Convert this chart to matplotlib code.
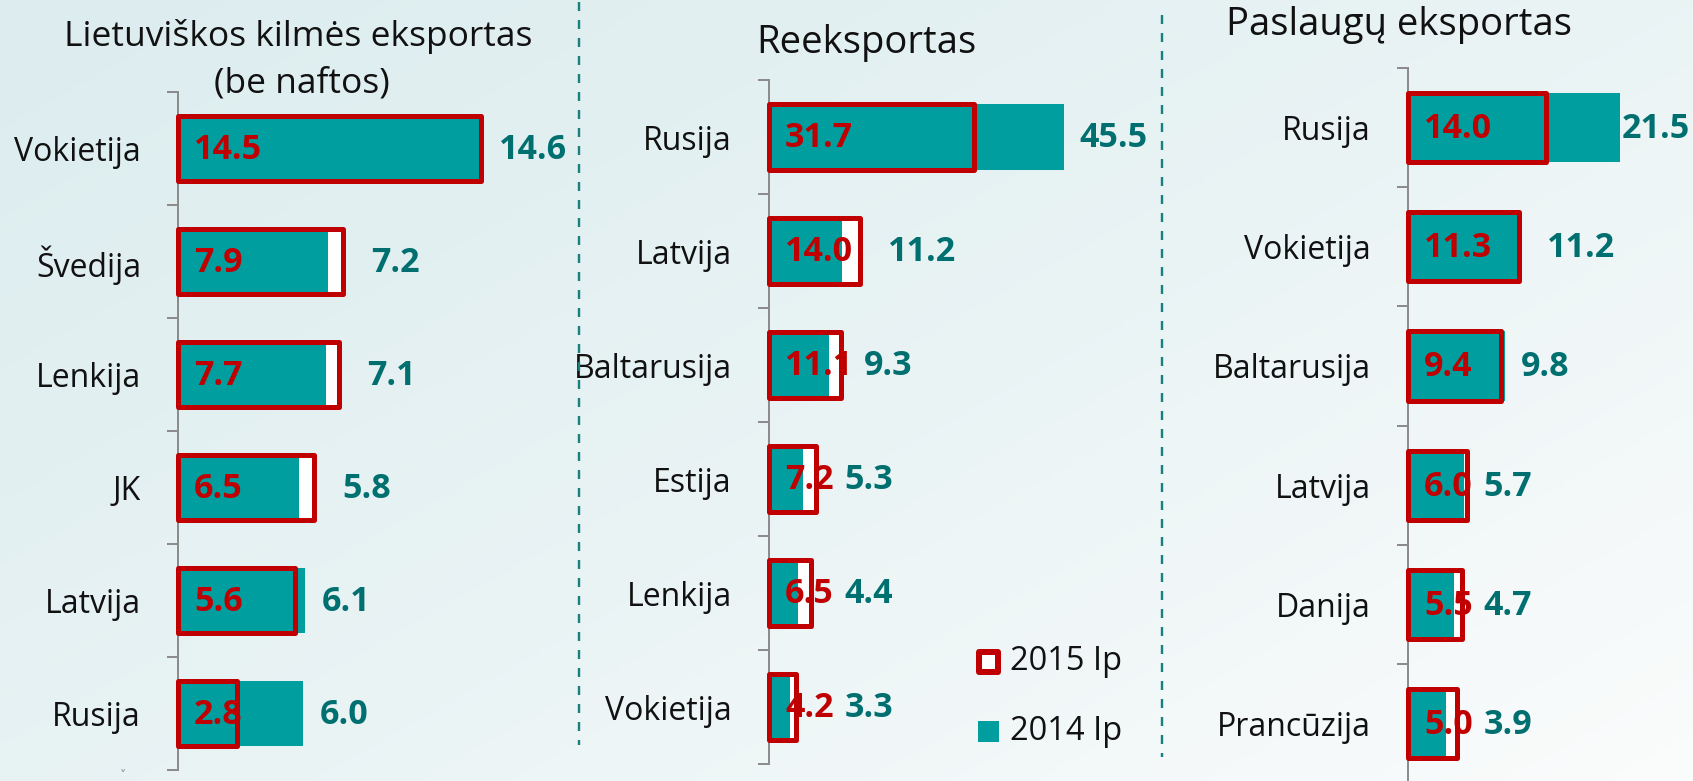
import numpy as np
import matplotlib
matplotlib.use("Agg")
import matplotlib.pyplot as plt
from matplotlib.patches import Rectangle
from matplotlib.lines import Line2D
from matplotlib.colors import to_rgb

plt.rcParams['font.family'] = ['Open Sans', 'DejaVu Sans']
plt.rcParams['lines.scale_dashes'] = False

# ---------------- data ----------------
p1_title = ["Lietuviškos kilmės eksportas", "(be naftos)"]
p1_cats = ["Vokietija", "Švedija", "Lenkija", "JK", "Latvija", "Rusija"]
p1_2015 = [14.5, 7.9, 7.7, 6.5, 5.6, 2.8]
p1_2014 = [14.6, 7.2, 7.1, 5.8, 6.1, 6.0]

p2_title = ["Reeksportas"]
p2_cats = ["Rusija", "Latvija", "Baltarusija", "Estija", "Lenkija", "Vokietija"]
p2_2015 = [31.7, 14.0, 11.1, 7.2, 6.5, 4.2]
p2_2014 = [45.5, 11.2, 9.3, 5.3, 4.4, 3.3]

p3_title = ["Paslaugų eksportas"]
p3_cats = ["Rusija", "Vokietija", "Baltarusija", "Latvija", "Danija", "Prancūzija"]
p3_2015 = [14.0, 11.3, 9.4, 6.0, 5.5, 5.0]
p3_2014 = [21.5, 11.2, 9.8, 5.7, 4.7, 3.9]

legend_labels = ["2015 Ip", "2014 Ip"]

# ---------------- style ----------------
W, H = 1693, 781
RED = "#C00000"
TEAL = "#009E9E"
TEAL_TXT = "#006F6F"
GRAY = "#8C8C8C"
PX2PT = 72 / 100.0
VAL_FS = 24.5

fig = plt.figure(figsize=(W / 100, H / 100), dpi=100)

# background gradient
bg = fig.add_axes([0, 0, 1, 1], zorder=-10)
bg.axis("off")
xx, yy = np.meshgrid(np.linspace(0, 1, 400), np.linspace(0, 1, 200))
t = np.clip(0.55 * xx + 0.45 * yy, 0, 1) ** 1.3
c0 = np.array(to_rgb("#ddedef"))
c1 = np.array(to_rgb("#fbfcfc"))
img = c0[None, None, :] * (1 - t[..., None]) + c1[None, None, :] * t[..., None]
bg.imshow(img, extent=[0, 1, 0, 1], aspect="auto", origin="upper")
bg.set_xlim(0, 1)
bg.set_ylim(0, 1)

# panel geometry in pixels: axis x, top y, row spacing, px per unit, right x
panels = [
    (p1_title, p1_cats, p1_2015, p1_2014, dict(ax_x=178, top=92, row=113, ppu=20.9, right=572,
                                                  title_x=[298, 302], title_y=[46, 92], title_fs=25.5)),
    (p2_title, p2_cats, p2_2015, p2_2014, dict(ax_x=769, top=80, row=114, ppu=6.48, right=1150,
                                                  title_x=[866], title_y=[53], title_fs=27.5)),
    (p3_title, p3_cats, p3_2015, p3_2014, dict(ax_x=1408, top=68, row=119.2, ppu=9.86, right=1690,
                                                  title_x=[1399], title_y=[35], title_fs=27.5)),
]

BAR_H = 0.58
axes_info = []
for title, cats, v15, v14, g in panels:
    n = len(cats)
    bottom_px = g["top"] + n * g["row"]
    ax = fig.add_axes([g["ax_x"] / W, (H - bottom_px) / H,
                       (g["right"] - g["ax_x"]) / W, n * g["row"] / H])
    ax.patch.set_alpha(0)
    y = np.arange(n)
    ax.barh(y, v15, height=BAR_H, color="white", edgecolor="none", zorder=1, clip_on=False)
    ax.barh(y, v14, height=BAR_H, color=TEAL, edgecolor="none", zorder=2, clip_on=False)
    ax.barh(y, v15, height=BAR_H, fill=False, edgecolor=RED, linewidth=5 * PX2PT,
            joinstyle="round", zorder=3, clip_on=False)
    ax.set_xlim(0, (g["right"] - g["ax_x"]) / g["ppu"])
    ax.set_ylim(n - 0.5, -0.5)
    for s in ["top", "right", "bottom"]:
        ax.spines[s].set_visible(False)
    ax.spines["left"].set_color(GRAY)
    ax.spines["left"].set_linewidth(2 * PX2PT)
    ax.spines["left"].set_zorder(1.5)
    ax.set_xticks([])
    ax.set_yticks(y)
    ax.set_yticklabels(cats, fontsize=23, color="#111111")
    ax.set_yticks(np.arange(n + 1) - 0.5, minor=True)
    ax.tick_params(axis="y", which="major", length=0, pad=37 * PX2PT)
    ax.tick_params(axis="y", which="minor", length=11 * PX2PT, width=2 * PX2PT,
                   color=GRAY, direction="out")
    reds = []
    for i, v in enumerate(v15):
        tr = ax.annotate(f"{v:.1f}", xy=(0, i), xytext=(16 * PX2PT, -1),
                         textcoords="offset points", ha="left", va="center",
                         fontsize=VAL_FS, fontweight="bold", color=RED, zorder=6,
                         annotation_clip=False)
        reds.append(tr)
    for lbl, lx, ly in zip(title, g["title_x"], g["title_y"]):
        fig.text(lx / W, 1 - ly / H, lbl, ha="center", va="baseline",
                 fontsize=g["title_fs"], color="#111111")
    axes_info.append((ax, v15, v14, reds))

# second series labels placed to the right of bars and first-series labels
fig.canvas.draw()
renderer = fig.canvas.get_renderer()
for ax, v15, v14, reds in axes_info:
    inv = ax.transData.inverted()
    for i, (a, b) in enumerate(zip(v15, v14)):
        bb = reds[i].get_window_extent(renderer)
        text_end = inv.transform((bb.x1, bb.y0))[0]
        x = max(a, b, text_end)
        if x == text_end:
            pad = 11
        elif a > b:
            pad = 28
        else:
            pad = 16
        lab = ax.annotate(f"{b:.1f}", xy=(x, i), xytext=(pad * PX2PT, -1),
                          textcoords="offset points", ha="left", va="center",
                          fontsize=VAL_FS, fontweight="bold", color=TEAL_TXT, zorder=6,
                          annotation_clip=False)
        lb = lab.get_window_extent(renderer)
        if lb.x1 > W - 3:
            shift = lb.x1 - (W - 3)
            lab.set_position(((pad * PX2PT) - shift * PX2PT, -1))

# dashed separators
for xpx, y0, y1 in [(579, 2, 745), (1162, 15, 757)]:
    fig.add_artist(Line2D([xpx / W, xpx / W], [1 - y0 / H, 1 - y1 / H], color="#1A7F7F",
                          linewidth=2.4 * PX2PT, dashes=(9 * PX2PT, 9 * PX2PT),
                          transform=fig.transFigure))

# legend (manual)
fig.add_artist(Rectangle((979 / W, 1 - 672 / H), 19 / W, 20 / H, transform=fig.transFigure,
                         facecolor="white", edgecolor=RED, linewidth=6 * PX2PT, joinstyle="round"))
fig.add_artist(Rectangle((978 / W, 1 - 742 / H), 21 / W, 21 / H, transform=fig.transFigure,
                         facecolor=TEAL, edgecolor="none"))
fig.text(1010 / W, 1 - 662 / H, legend_labels[0], ha="left", va="center", fontsize=23.5, color="#111111")
fig.text(1010 / W, 1 - 731 / H, legend_labels[1], ha="left", va="center", fontsize=23.5, color="#111111")

# small artifact mark
fig.text(123 / W, 1 - 776 / H, "˅", ha="center", va="center", fontsize=9, color="#888888",
         family=["DejaVu Sans"])

fig.savefig("out.png", dpi=100)
